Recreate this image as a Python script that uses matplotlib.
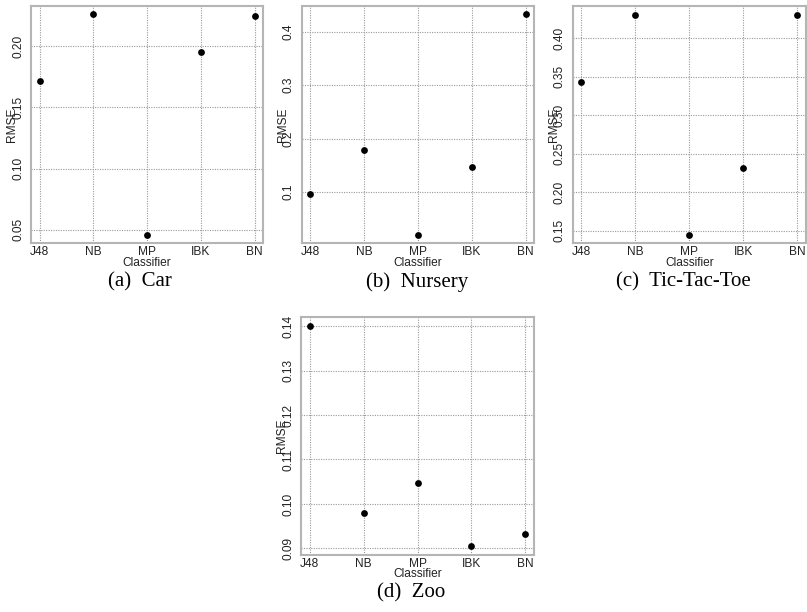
import matplotlib
matplotlib.use("Agg")
import matplotlib.pyplot as plt

classifiers = ['J48', 'NB', 'MP', 'IBK', 'BN']
car = [0.172, 0.226, 0.046, 0.195, 0.225]
nursery = [0.096, 0.179, 0.021, 0.148, 0.432]
tictactoe = [0.343, 0.431, 0.145, 0.231, 0.431]
zoo = [0.140, 0.098, 0.1047, 0.0905, 0.0933]

car_ticks = [0.05, 0.10, 0.15, 0.20]
nursery_ticks = [0.1, 0.2, 0.3, 0.4]
tictactoe_ticks = [0.15, 0.20, 0.25, 0.30, 0.35, 0.40]
zoo_ticks = [0.09, 0.10, 0.11, 0.12, 0.13, 0.14]

W, H = 807, 612


def px_box(left, top, right, bottom):
    # pixel box -> figure fraction [l, b, w, h]
    return [left / W, 1 - bottom / H, (right - left) / W, (bottom - top) / H]


def rplot(ax, values, yticks, fmt):
    x = list(range(1, len(classifiers) + 1))
    ax.scatter(x, values, s=24, color='black', zorder=3, linewidths=0)
    ax.margins(x=0.04, y=0.04)
    ax.set_xticks(x)
    ax.set_xticklabels(classifiers)
    ax.set_yticks(yticks)
    ax.set_yticklabels([fmt.format(v) for v in yticks], rotation=90, va='center')
    ax.tick_params(length=0, labelsize=8.6, colors='#222222', pad=2)
    ax.tick_params(axis='y', pad=5)
    ax.grid(True, color='#999999', linestyle=(0, (1, 1.2)), linewidth=0.8)
    ax.set_axisbelow(True)
    for sp in ax.spines.values():
        sp.set_color('#b5b5b5')
        sp.set_linewidth(1.5)
    ax.set_xlabel('Classifier', fontsize=8.6, color='#222222', labelpad=-1)
    w_px = ax.get_position().width * W
    ax.text(-19.0 / w_px, 0.5, 'RMSE', transform=ax.transAxes, rotation=90,
            ha='center', va='center', fontsize=8.6, color='#222222')


plt.rcParams['font.family'] = ['Liberation Sans', 'DejaVu Sans']
fig = plt.figure(figsize=(W / 100, H / 100), dpi=100)

ax_a = fig.add_axes(px_box(31, 5.7, 263.3, 243.3))
ax_b = fig.add_axes(px_box(301.7, 5.7, 534.3, 243.3))
ax_c = fig.add_axes(px_box(572.7, 5.7, 805.7, 243.3))
ax_d = fig.add_axes(px_box(301, 317.3, 534, 555))

rplot(ax_a, car, car_ticks, '{:.2f}')
rplot(ax_b, nursery, nursery_ticks, '{:.1f}')
rplot(ax_c, tictactoe, tictactoe_ticks, '{:.2f}')
rplot(ax_d, zoo, zoo_ticks, '{:.2f}')

cap = dict(ha='center', va='center', fontsize=15, family='Liberation Serif')
fig.text(140 / W, 1 - 282 / H, '(a)  Car', **cap)
fig.text(416.7 / W, 1 - 282 / H, '(b)  Nursery', **cap)
fig.text(683 / W, 1 - 282 / H, '(c)  Tic-Tac-Toe', **cap)
fig.text(411 / W, 1 - 593 / H, '(d)  Zoo', **cap)

fig.savefig('out.png', dpi=100)
